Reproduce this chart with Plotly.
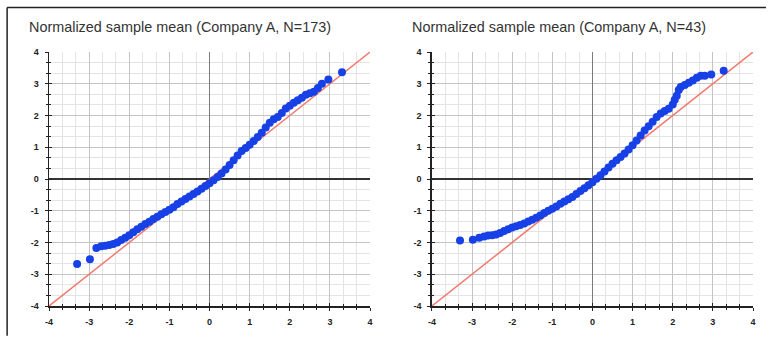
import plotly.graph_objects as go

TITLES = ["Normalized sample mean (Company A, N=173)",
          "Normalized sample mean (Company A, N=43)"]
TICK_VALS = [-4, -3, -2, -1, 0, 1, 2, 3, 4]
TICK_TEXT = ["-4", "-3", "-2", "-1", "0", "1", "2", "3", "4"]
REF_LINE = [-4, 4]

LEFT_X = [-3.30, -2.98, -2.82, -2.7, -2.6, -2.5, -2.4, -2.3, -2.2, -2.1, -2.0,
          -1.9, -1.8, -1.7, -1.6, -1.5, -1.4, -1.3, -1.2, -1.1, -1.0,
          -0.9, -0.8, -0.7, -0.6, -0.5, -0.4, -0.3, -0.2, -0.1, 0.0,
          0.1, 0.2, 0.3, 0.4, 0.5, 0.6, 0.7, 0.8, 0.9, 1.0,
          1.1, 1.2, 1.3, 1.4, 1.5, 1.6, 1.7, 1.8, 1.9, 2.0,
          2.1, 2.2, 2.3, 2.4, 2.5, 2.6, 2.7, 2.8, 2.96, 3.30]
LEFT_Y = [-2.68, -2.53, -2.17, -2.12, -2.10, -2.08, -2.05, -2.00, -1.92, -1.85, -1.77,
          -1.68, -1.58, -1.50, -1.42, -1.35, -1.26, -1.19, -1.11, -1.04, -0.97,
          -0.89, -0.79, -0.71, -0.63, -0.55, -0.47, -0.39, -0.31, -0.22, -0.13,
          -0.04, 0.06, 0.17, 0.30, 0.44, 0.59, 0.74, 0.88, 0.98, 1.08,
          1.20, 1.32, 1.46, 1.62, 1.77, 1.88, 1.95, 2.08, 2.22, 2.31,
          2.40, 2.48, 2.56, 2.65, 2.70, 2.75, 2.87, 3.00, 3.13, 3.36]

RIGHT_X = [-3.30, -2.98, -2.82, -2.7, -2.6, -2.5, -2.4, -2.3, -2.2, -2.1, -2.0,
           -1.9, -1.8, -1.7, -1.6, -1.5, -1.4, -1.3, -1.2, -1.1, -1.0,
           -0.9, -0.8, -0.7, -0.6, -0.5, -0.4, -0.3, -0.2, -0.1, 0.0,
           0.1, 0.2, 0.3, 0.4, 0.5, 0.6, 0.7, 0.8, 0.9, 1.0,
           1.1, 1.2, 1.3, 1.4, 1.5, 1.6, 1.7, 1.8, 1.9, 2.0,
           2.05, 2.1, 2.15, 2.2, 2.3, 2.4, 2.5, 2.6, 2.7, 2.8, 2.96, 3.27]
RIGHT_Y = [-1.94, -1.91, -1.85, -1.81, -1.78, -1.77, -1.75, -1.70, -1.64, -1.58, -1.53,
           -1.49, -1.45, -1.40, -1.34, -1.28, -1.22, -1.15, -1.07, -1.00, -0.94,
           -0.87, -0.78, -0.71, -0.64, -0.57, -0.47, -0.38, -0.29, -0.20, -0.10,
           0.01, 0.12, 0.24, 0.36, 0.48, 0.59, 0.69, 0.80, 0.93, 1.06,
           1.21, 1.37, 1.53, 1.66, 1.80, 1.95, 2.06, 2.14, 2.21, 2.35,
           2.50, 2.62, 2.80, 2.90, 2.96, 3.03, 3.10, 3.19, 3.25, 3.25, 3.29, 3.41]

W, H = 768, 339
ML, MR, MT, MB = 49, 13, 52, 30
PW, PH = W - ML - MR, H - MT - MB


def px_x(p):
    return (p - ML) / PW


def px_y(p):
    return (H - MB - p) / PH


MARKER_COLOR = "#1740e6"
LINE_COLOR = "#f07a6e"
AXIS_COLOR = "#222222"
TICK_FONT = dict(family="Liberation Sans, Arial, sans-serif", size=9,
                 color="#222222", weight="bold")

fig = go.Figure()

panels = [(LEFT_X, LEFT_Y, "x", "y", "x3", "y3"),
          (RIGHT_X, RIGHT_Y, "x2", "y2", "x4", "y4")]
for xs, ys, xa, ya, xo, yo in panels:
    fig.add_trace(go.Scatter(x=REF_LINE, y=REF_LINE, mode="lines",
                             line=dict(color=LINE_COLOR, width=1.5),
                             xaxis=xa, yaxis=ya, showlegend=False, hoverinfo="skip"))
    fig.add_trace(go.Scatter(x=xs, y=ys, mode="markers",
                             marker=dict(color=MARKER_COLOR, size=8, line=dict(width=0)),
                             xaxis=xa, yaxis=ya, showlegend=False))
    fig.add_trace(go.Scatter(x=[None], y=[None], mode="markers",
                             xaxis=xo, yaxis=yo, showlegend=False, hoverinfo="skip"))


def main_axis(domain, anchor, zcolor, standoff):
    d = dict(range=[-4, 4], tickmode="array", tickvals=TICK_VALS, ticktext=TICK_TEXT,
             tickfont=TICK_FONT, ticks="outside", ticklen=3, tickwidth=1,
             tickcolor=AXIS_COLOR, showline=True, linecolor=AXIS_COLOR, linewidth=1.5,
             showgrid=True, gridcolor="#c4c4c4", gridwidth=1,
             zeroline=True, zerolinecolor=zcolor, zerolinewidth=1.2,
             ticklabelstandoff=standoff,
             minor=dict(dtick=1 / 3, tick0=0, ticks="outside", ticklen=2,
                        tickwidth=1, tickcolor=AXIS_COLOR, showgrid=True,
                        gridcolor="#e4e4e4", gridwidth=1),
             anchor=anchor, fixedrange=True, layer="below traces", domain=domain)
    return d


def overlay_axis(over, anchor):
    return dict(range=[-4, 4], overlaying=over, anchor=anchor, tickmode="array",
                tickvals=TICK_VALS, showticklabels=False, ticks="inside", ticklen=3,
                tickwidth=1, tickcolor=AXIS_COLOR, showline=False, showgrid=False,
                zeroline=False,
                minor=dict(dtick=1 / 3, tick0=0, ticks="inside", ticklen=2,
                           tickwidth=1, tickcolor=AXIS_COLOR, showgrid=False),
                fixedrange=True)


dom_left = [0, px_x(371)]
dom_right = [px_x(433), 1]

fig.update_layout(
    width=W, height=H,
    margin=dict(l=ML, r=MR, t=MT, b=MB, pad=0),
    paper_bgcolor="white", plot_bgcolor="white",
    font=dict(family="Liberation Sans, Arial, sans-serif"),
    xaxis=main_axis(dom_left, "y", "#7a7a7a", 4),
    yaxis=main_axis([0, 1], "x", "#333333", 4),
    xaxis2=main_axis(dom_right, "y2", "#7a7a7a", 4),
    yaxis2=main_axis([0, 1], "x2", "#333333", 4),
    xaxis3=overlay_axis("x", "y3"),
    yaxis3=overlay_axis("y", "x3"),
    xaxis4=overlay_axis("x2", "y4"),
    yaxis4=overlay_axis("y2", "x4"),
    showlegend=False,
    hovermode=False,
)

for title, xp in zip(TITLES, [27, 411]):
    fig.add_annotation(text=title, xref="paper", yref="paper",
                       x=px_x(xp), y=px_y(27), xanchor="left", yanchor="middle",
                       showarrow=False,
                       font=dict(family="Liberation Sans, Arial, sans-serif",
                                 size=14.4, color="#333333"))

# outer frame (top and left edges of the surrounding box)
fig.add_shape(type="line", xref="paper", yref="paper",
              x0=px_x(7), y0=px_y(7), x1=px_x(W), y1=px_y(7),
              line=dict(color="#222222", width=1.5))
fig.add_shape(type="line", xref="paper", yref="paper",
              x0=px_x(7), y0=px_y(7), x1=px_x(7), y1=px_y(H),
              line=dict(color="#222222", width=1.5))

fig.write_html("out.html",
               config={"displayModeBar": False, "staticPlot": True},
               post_script="document.body.style.margin='0';document.body.style.overflow='hidden';")
